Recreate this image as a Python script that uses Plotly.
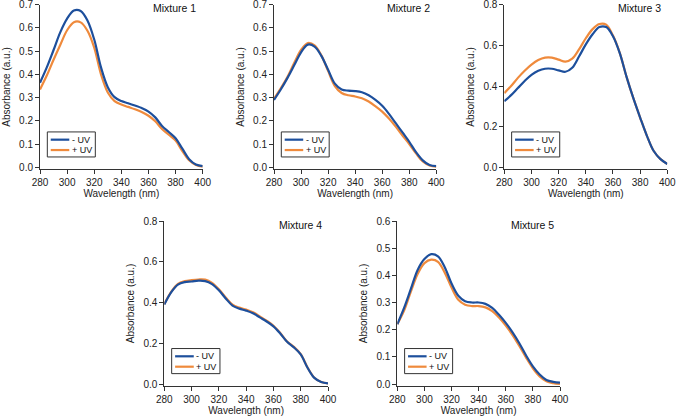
import plotly.graph_objects as go

# ---------------- data ----------------
wavelength = [280, 285, 290, 295, 300, 305, 310, 315, 320, 325, 330, 335, 340,
              345, 350, 355, 360, 365, 370, 375, 380, 385, 390, 395, 400]

m1_minus = [0.364, 0.43, 0.505, 0.582, 0.64, 0.675, 0.673, 0.632, 0.55, 0.43, 0.345, 0.302, 0.285,
            0.276, 0.266, 0.255, 0.24, 0.215, 0.178, 0.152, 0.125, 0.08, 0.035, 0.012, 0.005]
m1_plus = [0.335, 0.395, 0.463, 0.528, 0.59, 0.625, 0.624, 0.588, 0.515, 0.40, 0.322, 0.285, 0.27,
           0.26, 0.25, 0.238, 0.222, 0.198, 0.165, 0.14, 0.115, 0.07, 0.03, 0.01, 0.003]

m2_minus = [0.29, 0.335, 0.385, 0.44, 0.495, 0.528, 0.52, 0.48, 0.42, 0.36, 0.335, 0.33, 0.328,
            0.323, 0.31, 0.29, 0.265, 0.23, 0.19, 0.15, 0.11, 0.065, 0.03, 0.01, 0.005]
m2_plus = [0.295, 0.34, 0.39, 0.45, 0.505, 0.535, 0.525, 0.482, 0.415, 0.35, 0.32, 0.31, 0.305,
           0.297, 0.283, 0.263, 0.24, 0.21, 0.175, 0.137, 0.1, 0.06, 0.025, 0.008, 0.003]

m3_minus = [0.325, 0.355, 0.39, 0.425, 0.455, 0.475, 0.485, 0.485, 0.477, 0.47, 0.49, 0.545, 0.605,
            0.655, 0.69, 0.69, 0.645, 0.562, 0.445, 0.34, 0.245, 0.155, 0.08, 0.04, 0.016]
m3_plus = [0.365, 0.40, 0.44, 0.475, 0.505, 0.528, 0.54, 0.54, 0.53, 0.52, 0.535, 0.58, 0.635,
           0.68, 0.705, 0.702, 0.648, 0.563, 0.445, 0.34, 0.245, 0.155, 0.08, 0.04, 0.016]

m4_minus = [0.39, 0.45, 0.488, 0.50, 0.503, 0.507, 0.505, 0.49, 0.46, 0.42, 0.385, 0.37, 0.36,
            0.347, 0.327, 0.307, 0.283, 0.248, 0.207, 0.18, 0.145, 0.08, 0.03, 0.01, 0.003]
m4_plus = [0.392, 0.452, 0.492, 0.505, 0.51, 0.513, 0.512, 0.496, 0.465, 0.425, 0.39, 0.375, 0.365,
           0.352, 0.332, 0.311, 0.286, 0.25, 0.209, 0.182, 0.147, 0.081, 0.031, 0.01, 0.003]

m5_minus = [0.22, 0.28, 0.35, 0.42, 0.46, 0.478, 0.47, 0.43, 0.37, 0.325, 0.305, 0.30, 0.30,
            0.295, 0.28, 0.255, 0.225, 0.19, 0.15, 0.105, 0.065, 0.035, 0.015, 0.008, 0.005]
m5_plus = [0.22, 0.27, 0.34, 0.405, 0.445, 0.458, 0.45, 0.41, 0.355, 0.31, 0.292, 0.287, 0.287,
           0.282, 0.268, 0.245, 0.215, 0.18, 0.14, 0.097, 0.058, 0.028, 0.01, 0.003, 0.0]

panel_titles = ["Mixture 1", "Mixture 2", "Mixture 3", "Mixture 4", "Mixture 5"]
series_names = ["- UV", "+ UV"]
x_ticks = [280, 300, 320, 340, 360, 380, 400]
y_ticks_07 = [0.0, 0.1, 0.2, 0.3, 0.4, 0.5, 0.6, 0.7]
y_ticks_08 = [0.0, 0.2, 0.4, 0.6, 0.8]
y_ticks_06 = [0.0, 0.1, 0.2, 0.3, 0.4, 0.5, 0.6]

# ---------------- styling / layout ----------------
W, H = 676, 416
BLUE = "#1d4f9c"
ORANGE = "#ef8a3c"
AX = "#333333"
FONT = "Liberation Sans, Arial, sans-serif"

# pixel boxes: (left, right, top, bottom)
panels = [
    dict(box=(40, 202.7, 4.7, 169.3), ymax=0.7, ticks=y_ticks_07, data=(m1_minus, m1_plus)),
    dict(box=(274, 436.3, 4.7, 169.3), ymax=0.7, ticks=y_ticks_07, data=(m2_minus, m2_plus)),
    dict(box=(504.3, 667.3, 4.7, 169.3), ymax=0.8, ticks=y_ticks_08, data=(m3_minus, m3_plus)),
    dict(box=(164.3, 328, 221, 386), ymax=0.8, ticks=y_ticks_08, data=(m4_minus, m4_plus)),
    dict(box=(397.3, 560, 221, 386), ymax=0.6, ticks=y_ticks_06, data=(m5_minus, m5_plus)),
]

fig = go.Figure()
shapes = []
annotations = []
layout = {}

for i, p in enumerate(panels):
    n = i + 1
    sfx = "" if n == 1 else str(n)
    xa, ya = "x" + sfx, "y" + sfx
    left, right, top, bottom = p["box"]
    minus, plus = p["data"]

    fig.add_trace(go.Scatter(x=wavelength, y=plus, mode="lines", name=series_names[1],
                             line=dict(color=ORANGE, width=2.2, shape="spline", smoothing=1.0),
                             xaxis=xa, yaxis=ya, showlegend=False))
    fig.add_trace(go.Scatter(x=wavelength, y=minus, mode="lines", name=series_names[0],
                             line=dict(color=BLUE, width=2.2, shape="spline", smoothing=1.0),
                             xaxis=xa, yaxis=ya, showlegend=False))

    # 0 sits 2px above the bottom axis line
    ppu = (bottom - 2 - top) / p["ymax"]
    ymin = -2 / ppu

    layout["xaxis" + sfx] = dict(
        domain=[left / W, right / W], anchor=ya, range=[280, 400],
        tickvals=x_ticks, ticks="outside", ticklen=4, tickwidth=1, tickcolor=AX,
        showline=True, linecolor=AX, linewidth=1, showgrid=False, zeroline=False,
        ticklabeloverflow="allow",
        tickfont=dict(size=10, color="#222", family=FONT),
        title=dict(text="Wavelength (nm)", font=dict(size=10, color="#222", family=FONT), standoff=2),
        automargin=False, fixedrange=True)
    layout["yaxis" + sfx] = dict(
        domain=[1 - bottom / H, 1 - top / H], anchor=xa, range=[ymin, p["ymax"] + 1e-4],
        tickvals=p["ticks"], tickformat=".1f", ticks="outside", ticklen=4, tickwidth=1,
        tickcolor=AX, showline=True, linecolor=AX, linewidth=1, showgrid=False, zeroline=False,
        ticklabeloverflow="allow",
        tickfont=dict(size=10, color="#222", family=FONT),
        title=dict(text="Absorbance (a.u.)", font=dict(size=10, color="#222", family=FONT), standoff=6),
        automargin=False, fixedrange=True)

    xd, yd = xa + " domain", ya + " domain"
    # panel title
    annotations.append(dict(text=panel_titles[i], xref=xd, yref=yd, x=0.968, y=1.02,
                            xanchor="right", yanchor="top", showarrow=False, borderpad=0,
                            font=dict(size=10.5, color="#111", family=FONT)))
    # legend box
    shapes.append(dict(type="rect", xref=xd, yref=yd, x0=0.045, x1=0.34, y0=0.075, y1=0.227,
                       line=dict(color=AX, width=1), fillcolor="white", layer="above"))
    for k, (col, yy) in enumerate([(BLUE, 0.18), (ORANGE, 0.117)]):
        shapes.append(dict(type="line", xref=xd, yref=yd, x0=0.066, x1=0.18, y0=yy, y1=yy,
                           line=dict(color=col, width=2.2), layer="above"))
        annotations.append(dict(text=series_names[k], xref=xd, yref=yd, x=0.19, y=yy,
                                xanchor="left", yanchor="middle", showarrow=False, borderpad=0,
                                font=dict(size=9, color="#111", family=FONT)))

fig.update_layout(
    width=W, height=H, margin=dict(l=0, r=0, t=0, b=0),
    paper_bgcolor="white", plot_bgcolor="white",
    font=dict(family=FONT, size=10, color="#222"),
    shapes=shapes, annotations=annotations, showlegend=False,
    **layout)

fig.write_html("out.html", config={"displayModeBar": False, "staticPlot": True},
               post_script="document.body.style.margin='0';document.body.style.overflow='hidden';")
